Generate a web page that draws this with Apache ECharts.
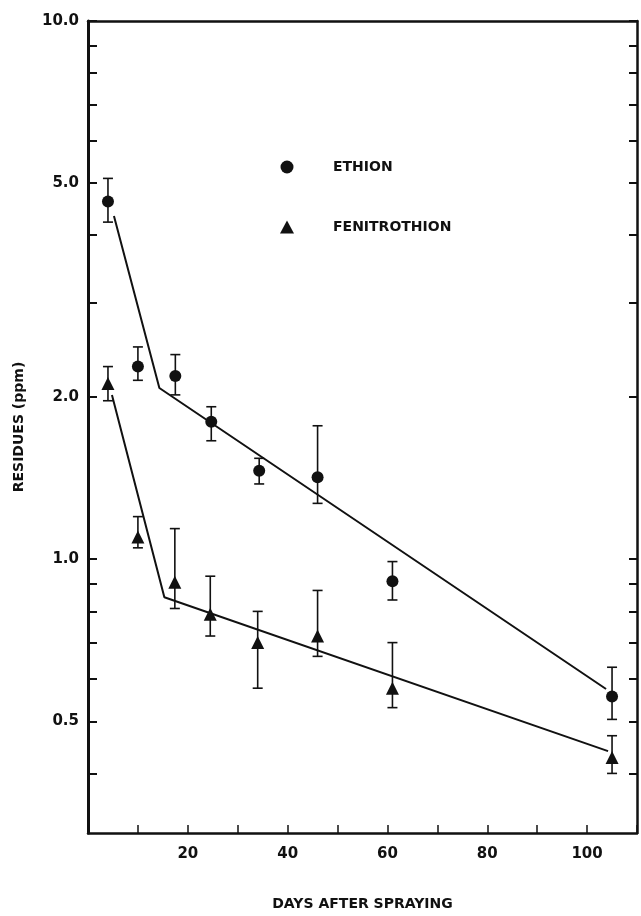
<!DOCTYPE html>
<html><head><meta charset="utf-8">
<script src="https://cdn.jsdelivr.net/npm/echarts@6/dist/echarts.min.js"></script>
<style>html,body{margin:0;padding:0;background:#fff}#c{width:641px;height:916px}</style>
</head><body><div id="c"></div>
<script>
const ethionDays = [4, 10, 17.5, 24.7, 34.3, 46, 61, 105];
const ethionMean = [4.62, 2.28, 2.19, 1.80, 1.46, 1.42, 0.91, 0.556];
const ethionLow  = [4.23, 2.15, 2.02, 1.66, 1.38, 1.27, 0.84, 0.504];
const ethionHigh = [5.10, 2.48, 2.40, 1.92, 1.54, 1.77, 0.99, 0.63];
const fenDays = [4, 10, 17.4, 24.5, 34, 46, 61, 105];
const fenMean = [2.12, 1.10, 0.906, 0.79, 0.70, 0.72, 0.576, 0.428];
const fenLow  = [1.97, 1.05, 0.81, 0.72, 0.576, 0.66, 0.53, 0.40];
const fenHigh = [2.28, 1.20, 1.14, 0.93, 0.80, 0.875, 0.70, 0.47];
const ethionFitDays = [5.2, 14.3, 103.8];
const ethionFitVals = [4.34, 2.08, 0.574];
const fenFitDays = [4.8, 15.3, 104.2];
const fenFitVals = [2.02, 0.85, 0.44];
const yTickValues = [0.4, 0.5, 0.6, 0.7, 0.8, 0.9, 1, 2, 3, 4, 5, 6, 7, 8, 9, 10];
const yLabelValues = [0.5, 1, 2, 5, 10];
const xLabelValues = [20, 40, 60, 80, 100];

const FONT = 'DejaVu Sans';
const zip = (a, b) => a.map((v, i) => [v, b[i]]);
const zip3 = (a, b, c) => a.map((v, i) => [v, b[i], c[i]]);

function errRender(params, api) {
  const x = api.value(0);
  const top = api.coord([x, api.value(2)]);
  const bot = api.coord([x, api.value(1)]);
  const w = 5;
  const st = { stroke: '#111', lineWidth: 1.6 };
  return {
    type: 'group',
    children: [
      { type: 'line', shape: { x1: top[0], y1: top[1], x2: bot[0], y2: bot[1] }, style: st },
      { type: 'line', shape: { x1: top[0] - w, y1: top[1], x2: top[0] + w, y2: top[1] }, style: st },
      { type: 'line', shape: { x1: bot[0] - w, y1: bot[1], x2: bot[0] + w, y2: bot[1] }, style: st }
    ]
  };
}

const chart = echarts.init(document.getElementById('c'));
chart.setOption({
  animation: false,
  backgroundColor: '#fff',
  grid: { left: 88, right: 4, top: 21, bottom: 76 },
  legend: {
    orient: 'vertical', left: 275, top: 155, itemGap: 46,
    itemWidth: 14, itemHeight: 13,
    data: ['ETHION', 'FENITROTHION'],
    textStyle: { fontFamily: FONT, fontWeight: 'bold', fontSize: 14, color: '#111', padding: [0, 0, 0, 34] }
  },
  xAxis: [{
    type: 'value', min: 0, max: 110, interval: 10,
    name: 'DAYS AFTER SPRAYING', nameLocation: 'middle', nameGap: 64,
    nameTextStyle: { fontFamily: FONT, fontWeight: 'bold', fontSize: 14, color: '#111' },
    axisLine: { onZero: false, lineStyle: { color: '#111', width: 2.5 } },
    axisTick: { inside: true, length: 8, lineStyle: { color: '#111', width: 1.5 } },
    axisLabel: {
      margin: 14, fontFamily: FONT, fontWeight: 'bold', fontSize: 15, color: '#111',
      formatter: v => xLabelValues.includes(v) ? String(v) : ''
    },
    splitLine: { show: false }
  }, {
    type: 'value', min: 0, max: 110, position: 'top',
    axisLine: { show: true, onZero: false, lineStyle: { color: '#111', width: 2.5 } },
    axisTick: { show: false }, axisLabel: { show: false }, splitLine: { show: false }
  }],
  yAxis: [{
    type: 'log', logBase: 10, min: 0.31, max: 10,
    name: 'RESIDUES (ppm)', nameLocation: 'middle', nameGap: 62,
    nameTextStyle: { fontFamily: FONT, fontWeight: 'bold', fontSize: 14, color: '#111' },
    axisLine: { show: true, onZero: false, lineStyle: { color: '#111', width: 3 } },
    axisTick: { inside: true, length: 9, customValues: yTickValues, lineStyle: { color: '#111', width: 2 } },
    axisLabel: {
      margin: 9, customValues: yLabelValues, fontFamily: FONT, fontWeight: 'bold', fontSize: 15, color: '#111',
      formatter: v => Number(v).toFixed(1)
    },
    splitLine: { show: false }, minorTick: { show: false }
  }, {
    type: 'log', logBase: 10, min: 0.31, max: 10, position: 'right',
    axisLine: { show: true, onZero: false, lineStyle: { color: '#111', width: 2.5 } },
    axisTick: { inside: true, length: 8, customValues: yTickValues, lineStyle: { color: '#111', width: 2 } },
    axisLabel: { show: false }, splitLine: { show: false }
  }],
  series: [
    { name: 'ethion fit', type: 'line', data: zip(ethionFitDays, ethionFitVals), symbol: 'none',
      lineStyle: { color: '#111', width: 2 }, z: 2 },
    { name: 'fenitrothion fit', type: 'line', data: zip(fenFitDays, fenFitVals), symbol: 'none',
      lineStyle: { color: '#111', width: 2 }, z: 2 },
    { name: 'ethion err', type: 'custom', renderItem: errRender, data: zip3(ethionDays, ethionLow, ethionHigh),
      encode: { x: 0, y: [1, 2] }, z: 3 },
    { name: 'fenitrothion err', type: 'custom', renderItem: errRender, data: zip3(fenDays, fenLow, fenHigh),
      encode: { x: 0, y: [1, 2] }, z: 3 },
    { name: 'ETHION', type: 'scatter', data: zip(ethionDays, ethionMean), symbol: 'circle', symbolSize: 12,
      itemStyle: { color: '#111', opacity: 1 }, z: 4 },
    { name: 'FENITROTHION', type: 'scatter', data: zip(fenDays, fenMean), symbol: 'triangle', symbolSize: 13,
      itemStyle: { color: '#111', opacity: 1 }, z: 4 }
  ]
});
</script></body></html>
